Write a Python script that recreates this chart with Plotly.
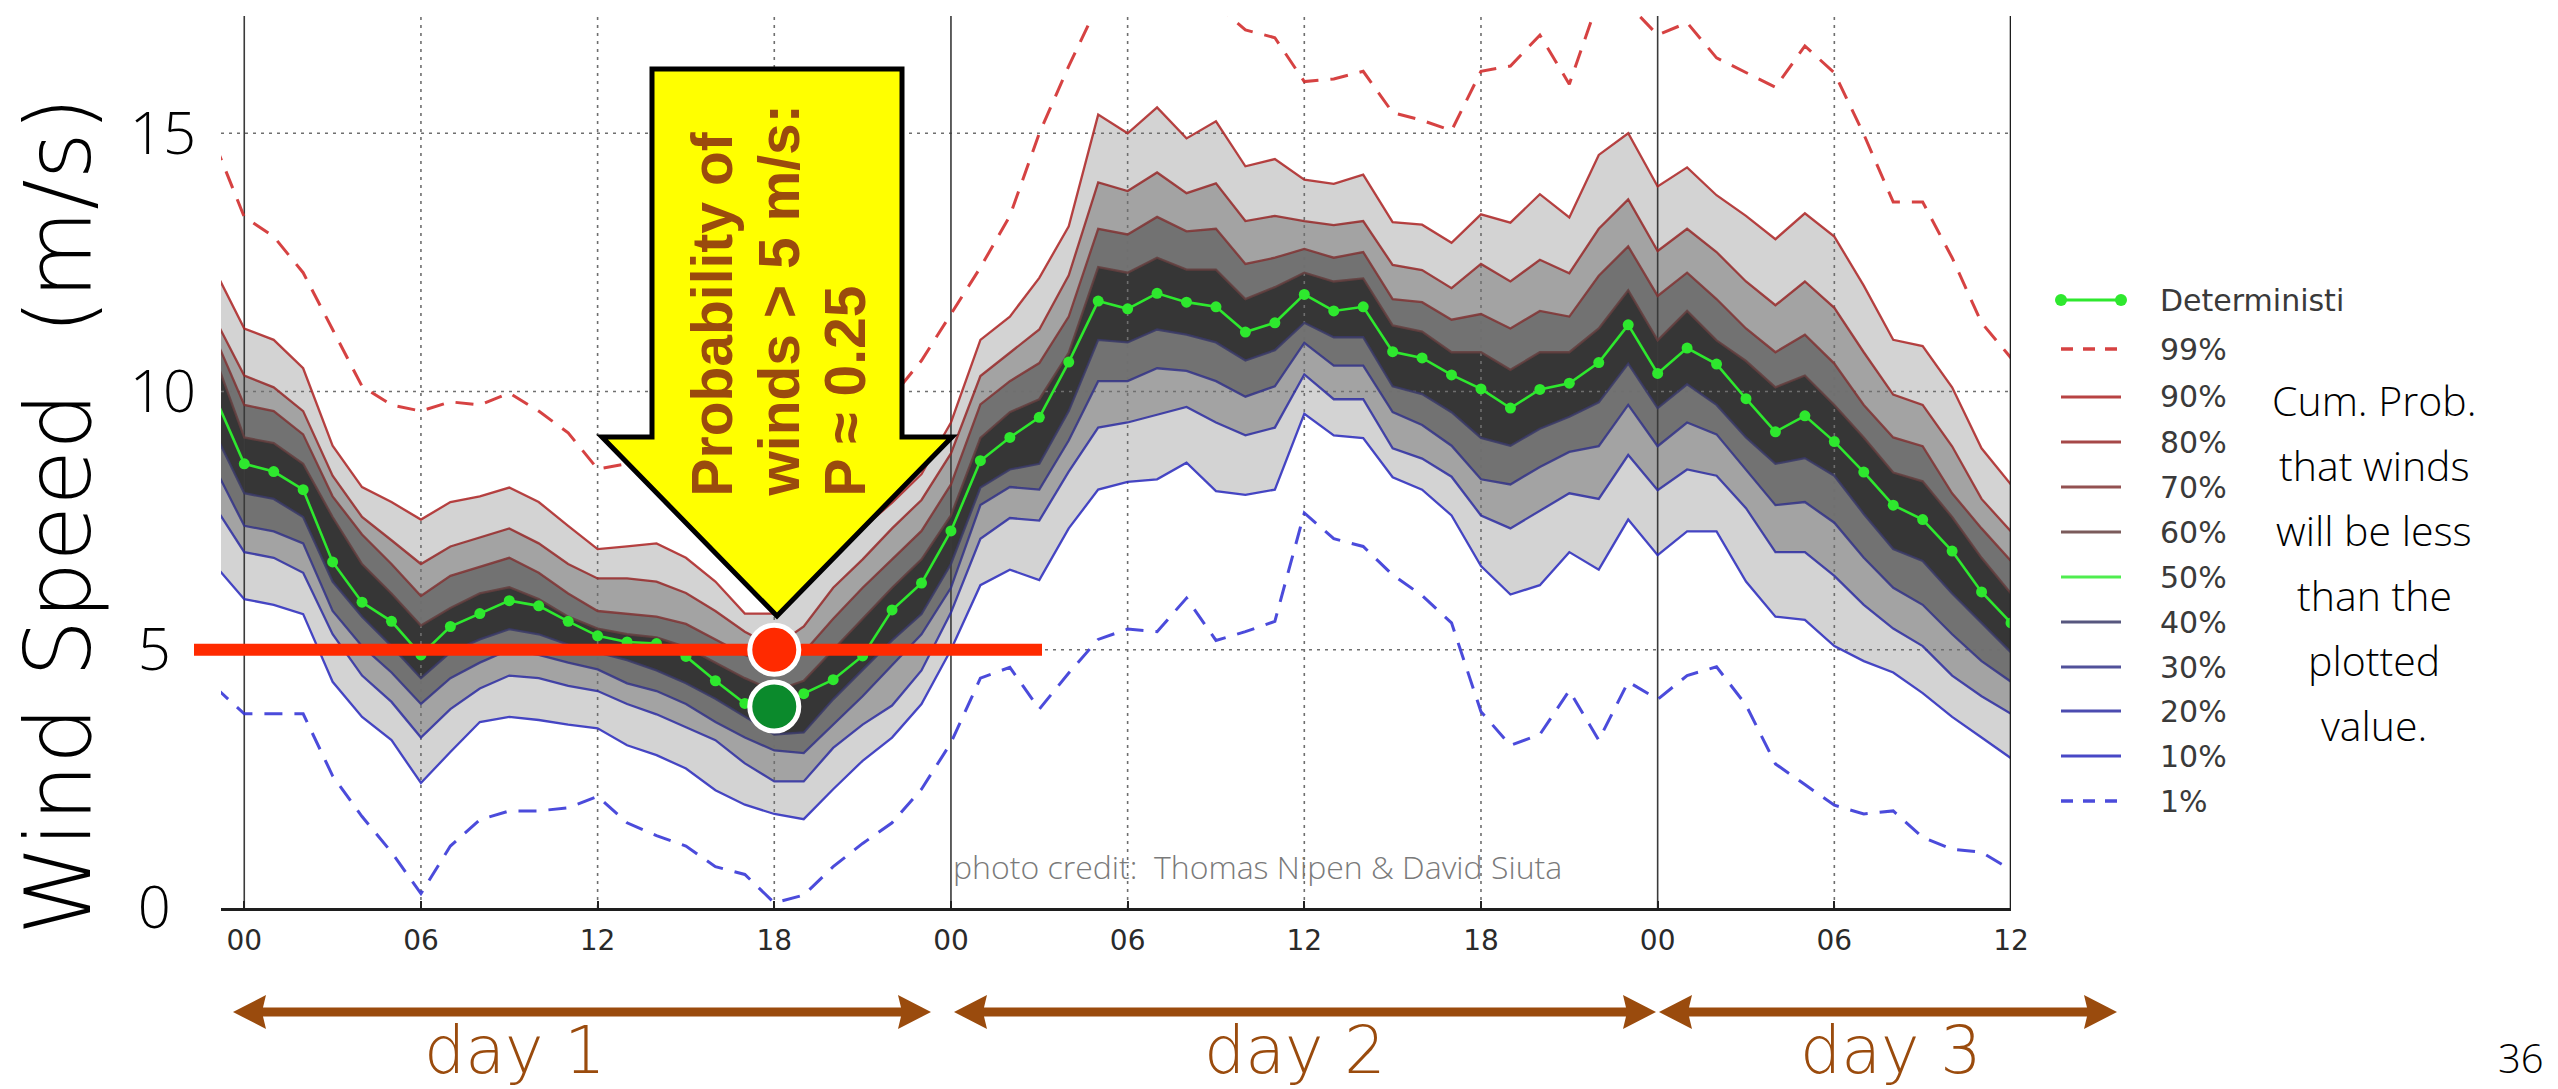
import plotly.graph_objects as go

# ---------------------------------------------------------------- data
# forecast hour, counted from 00 of day 1 (hourly output)
hours = list(range(-1, 61))

tick_hours = list(range(0, 61, 6))
tick_text = ["00", "06", "12", "18", "00", "06", "12", "18", "00", "06", "12"]
speed_ticks = [0, 5, 10, 15]
speed_text = ["0", "5", "10", "15"]

# deterministic run (m/s)
deterministic = [
    9.9, 8.6, 8.45, 8.1, 6.7, 5.92, 5.55, 4.9, 5.45, 5.7, 5.95, 5.85, 5.55, 5.27, 5.15, 5.12,
    4.87, 4.4, 3.96, 3.9, 4.15, 4.42, 4.88, 5.77, 6.29, 7.3, 8.66, 9.11, 9.5, 10.57,
    11.75, 11.6, 11.9, 11.73, 11.64, 11.15, 11.33, 11.88, 11.56, 11.64, 10.77, 10.65, 10.32, 10.05, 9.68, 10.04,
    10.16, 10.56, 11.29, 10.35, 10.84, 10.53, 9.86, 9.22, 9.53, 9.03, 8.44, 7.8, 7.52, 6.91, 6.12, 5.52,
]

# ensemble quantiles (m/s)
pct99 = [
    14.8, 13.38, 13.0, 12.3, 11.2, 10.1, 9.74, 9.62, 9.8, 9.74, 9.97, 9.62, 9.2, 8.5, 8.6, 8.75,
    8.8, 8.5, 8.0, 7.9, 8.1, 8.6, 9.2, 9.9, 10.6, 11.5, 12.4, 13.4, 15.0, 16.3,
    17.5, 18.0, 18.2, 17.8, 17.5, 17.0, 16.85, 16.0, 16.05, 16.2, 15.4, 15.25, 15.05, 16.2, 16.3, 16.9,
    15.95, 17.6, 17.5, 16.9, 17.14, 16.46, 16.17, 15.89, 16.69, 16.17, 14.98, 13.67, 13.67, 12.59, 11.33, 10.65,
]
pct90 = [
    12.35, 11.22, 11.0, 10.45, 8.95, 8.15, 7.86, 7.52, 7.86, 7.97, 8.14, 7.86, 7.4, 6.95, 7.0, 7.06,
    6.78, 6.32, 5.7, 5.7, 6.2, 6.78, 7.35, 7.85, 8.4, 9.4, 11.0, 11.45, 12.2, 13.2,
    15.36, 15.0, 15.5, 14.9, 15.23, 14.36, 14.5, 14.1, 14.02, 14.2, 13.28, 13.23, 12.88, 13.43, 13.27, 13.82,
    13.37, 14.58, 15.0, 13.97, 14.34, 13.8, 13.4, 12.95, 13.45, 13.0, 12.05, 11.0, 10.88, 10.08, 8.9, 8.2,
]
pct80 = [
    11.41, 10.31, 10.08, 9.62, 8.37, 7.57, 7.12, 6.66, 7.0, 7.18, 7.35, 7.06, 6.66, 6.38, 6.38, 6.32,
    6.1, 5.75, 5.35, 5.05, 5.45, 6.2, 6.75, 7.35, 7.9, 8.8, 10.3, 10.75, 11.2, 12.25,
    14.05, 13.88, 14.24, 13.84, 14.03, 13.3, 13.4, 13.3, 13.22, 13.3, 12.45, 12.35, 12.0, 12.47, 12.13, 12.55,
    12.29, 13.15, 13.72, 12.72, 13.15, 12.7, 12.13, 11.67, 12.13, 11.62, 10.76, 9.94, 9.74, 8.94, 7.92, 7.29,
]
pct70 = [
    11.06, 9.74, 9.62, 9.17, 7.97, 7.23, 6.66, 6.04, 6.43, 6.6, 6.78, 6.49, 6.09, 5.75, 5.69, 5.64,
    5.5, 5.2, 4.9, 4.72, 4.95, 5.6, 6.2, 6.75, 7.3, 8.2, 9.75, 10.2, 10.55, 11.45,
    13.15, 13.04, 13.38, 13.1, 13.15, 12.47, 12.59, 12.76, 12.59, 12.7, 11.79, 11.73, 11.39, 11.5, 11.22, 11.56,
    11.45, 12.24, 12.81, 11.85, 12.3, 11.79, 11.22, 10.76, 11.1, 10.54, 9.74, 9.11, 8.94, 8.03, 7.35, 6.72,
]
pct60 = [
    10.67, 9.11, 9.0, 8.6, 7.57, 6.66, 6.09, 5.47, 5.81, 6.09, 6.21, 5.98, 5.64, 5.41, 5.3, 5.24,
    5.05, 4.75, 4.45, 4.2, 4.4, 5.0, 5.6, 6.2, 6.75, 7.6, 9.1, 9.6, 9.85, 10.75,
    12.41, 12.3, 12.59, 12.36, 12.36, 11.79, 12.02, 12.3, 12.13, 12.19, 11.28, 11.16, 10.76, 10.76, 10.42, 10.76,
    10.76, 11.22, 11.96, 10.99, 11.56, 10.99, 10.59, 10.08, 10.31, 9.74, 9.11, 8.43, 8.26, 7.57, 6.78, 6.09,
]
pct40 = [
    9.2, 8.03, 7.92, 7.57, 6.32, 5.64, 5.07, 4.45, 4.95, 5.2, 5.4, 5.3, 5.1, 4.95, 4.8, 4.6,
    4.35, 4.05, 3.7, 3.36, 3.4, 4.04, 4.61, 5.18, 5.69, 6.66, 8.14, 8.49, 8.6, 9.62,
    11.0, 10.95, 11.2, 11.1, 10.95, 10.6, 10.8, 11.33, 11.05, 11.05, 10.1, 9.95, 9.6, 9.1, 8.95, 9.28,
    9.51, 9.79, 10.54, 9.68, 10.14, 9.74, 9.11, 8.6, 8.71, 8.37, 7.63, 6.95, 6.72, 6.09, 5.52, 4.95,
]
pct30 = [
    8.52, 7.4, 7.29, 7.06, 5.75, 5.07, 4.56, 3.95, 4.45, 4.75, 5.0, 4.9, 4.75, 4.62, 4.35, 4.2,
    3.95, 3.6, 3.3, 3.05, 3.0, 3.55, 4.1, 4.7, 5.3, 6.2, 7.8, 8.15, 8.1, 9.05,
    10.2, 10.2, 10.45, 10.4, 10.2, 9.9, 10.1, 10.94, 10.5, 10.5, 9.6, 9.35, 8.95, 8.3, 8.2, 8.54,
    8.83, 8.94, 9.74, 8.94, 9.4, 9.17, 8.49, 7.8, 7.86, 7.46, 6.78, 6.2, 5.87, 5.3, 4.78, 4.38,
]
pct20 = [
    7.77, 6.89, 6.78, 6.49, 5.3, 4.5, 3.99, 3.3, 3.85, 4.25, 4.5, 4.45, 4.3, 4.2, 3.95, 3.75,
    3.5, 3.25, 2.8, 2.45, 2.45, 3.1, 3.55, 3.92, 4.6, 5.72, 7.15, 7.55, 7.5, 8.45,
    9.3, 9.4, 9.55, 9.7, 9.4, 9.15, 9.3, 10.33, 9.85, 9.85, 8.9, 8.7, 8.35, 7.6, 7.35, 7.69,
    8.03, 7.92, 8.77, 8.09, 8.49, 8.37, 7.74, 6.89, 6.89, 6.43, 5.87, 5.41, 5.07, 4.5, 4.1, 3.76,
]
pct10 = [
    6.64, 5.98, 5.87, 5.69, 4.38, 3.7, 3.25, 2.42, 3.02, 3.6, 3.7, 3.64, 3.55, 3.48, 3.15, 2.96,
    2.7, 2.28, 2.0, 1.82, 1.72, 2.3, 2.85, 3.3, 3.95, 5.0, 6.25, 6.55, 6.35, 7.35,
    8.1, 8.25, 8.3, 8.62, 8.07, 8.0, 8.1, 9.57, 9.15, 9.1, 8.34, 8.1, 7.6, 6.62, 6.07, 6.25,
    6.89, 6.55, 7.52, 6.83, 7.29, 7.29, 6.32, 5.64, 5.58, 5.07, 4.78, 4.56, 4.16, 3.7, 3.3, 2.9,
]
pct1 = [
    4.28, 3.76, 3.76, 3.76, 2.56, 1.77, 1.08, 0.28, 1.2, 1.71, 1.88, 1.88, 1.94, 2.16, 1.65, 1.4,
    1.2, 0.8, 0.65, 0.1, 0.25, 0.8, 1.25, 1.65, 2.3, 3.2, 4.45, 4.66, 3.85, 4.55,
    5.2, 5.4, 5.35, 6.0, 5.18, 5.35, 5.55, 7.65, 7.15, 7.0, 6.45, 6.05, 5.52, 3.8, 3.15, 3.36,
    4.21, 3.25, 4.38, 4.04, 4.5, 4.67, 3.93, 2.79, 2.39, 1.99, 1.82, 1.88, 1.37, 1.14, 1.08, 0.74,
]

threshold = 5          # m/s, the wind speed asked about
event_hour = 18        # hour of the example
event_label = ["Probability of", "winds > 5 m/s:", "P \u2248 0.25"]
day_labels = ["day 1", "day 2", "day 3"]
note_lines = ["Cum. Prob.", "that winds", "will be less", "than the", "plotted", "value."]

for series in (deterministic, pct99, pct90, pct80, pct70, pct60, pct40, pct30, pct20, pct10, pct1):
    assert len(series) == len(hours)

# ---------------------------------------------------------------- layout geometry (pixels)
W, H = 2558, 1089
PL, PR, PT, PB = 221, 2011, 16, 908          # plot area edges
X_RANGE = [-0.79, 60]
Y_RANGE = [0, 17.27]


def px(x):
    return (x - PL) / (PR - PL)


def py(y):
    return (PB - y) / (PB - PT)


LIGHT = "Open Sans"
WIDE_LIGHT = "DejaVu Sans"
BROWN = "#9a4b0d"
RED = "#ff2a00"

band_fill = ["#d3d3d3", "#a3a3a3", "#727272", "#363636"]
bands = [(pct10, pct90), (pct20, pct80), (pct30, pct70), (pct40, pct60)]

quantile_lines = [
    ("99%", pct99, "rgba(210,45,45,0.9)", "18px,12px", 3.0),
    ("90%", pct90, "rgba(172,34,34,0.85)", "solid", 2.3),
    ("80%", pct80, "rgba(150,40,40,0.85)", "solid", 2.3),
    ("70%", pct70, "rgba(128,50,50,0.85)", "solid", 2.3),
    ("60%", pct60, "rgba(100,62,62,0.85)", "solid", 2.3),
    ("40%", pct40, "rgba(58,58,104,0.85)", "solid", 2.3),
    ("30%", pct30, "rgba(50,50,136,0.85)", "solid", 2.3),
    ("20%", pct20, "rgba(45,45,162,0.85)", "solid", 2.3),
    ("10%", pct10, "rgba(40,40,188,0.85)", "solid", 2.3),
    ("1%", pct1, "rgba(55,55,215,0.9)", "18px,12px", 3.0),
]
DET_GREEN = "#2ee82e"
MEDIAN_GREEN = "rgba(60,235,60,0.9)"

fig = go.Figure()

# shaded quantile bands, widest first
for (lo, hi), colour in zip(bands, band_fill):
    fig.add_trace(go.Scatter(x=hours, y=lo, mode="lines", line=dict(width=0),
                             hoverinfo="skip", showlegend=False))
    fig.add_trace(go.Scatter(x=hours, y=hi, mode="lines", line=dict(width=0),
                             fill="tonexty", fillcolor=colour,
                             hoverinfo="skip", showlegend=False))

# grid drawn over the shading: dotted at 06/12/18 and every 5 m/s, solid at midnight
gx, gy = [], []
for h in tick_hours:
    if h % 24:
        gx += [h, h, None]
        gy += [Y_RANGE[0], Y_RANGE[1], None]
for v in speed_ticks[1:]:
    gx += [X_RANGE[0], X_RANGE[1], None]
    gy += [v, v, None]
fig.add_trace(go.Scatter(x=gx, y=gy, mode="lines",
                         line=dict(color="#6f6f6f", width=1.6, dash="3px,5px"),
                         hoverinfo="skip", showlegend=False))
dx, dy = [], []
for h in tick_hours:
    if h % 24 == 0:
        dx += [h, h, None]
        dy += [Y_RANGE[0], Y_RANGE[1], None]
fig.add_trace(go.Scatter(x=dx, y=dy, mode="lines",
                         line=dict(color="#3a3a3a", width=1.6),
                         hoverinfo="skip", showlegend=False))

# quantile lines
for name, vals, colour, dash, width in quantile_lines:
    fig.add_trace(go.Scatter(x=hours, y=vals, mode="lines", name=name,
                             line=dict(color=colour, width=width, dash=dash),
                             showlegend=False))

# deterministic forecast
fig.add_trace(go.Scatter(x=hours, y=deterministic, mode="lines+markers", name="Deterministic",
                         line=dict(color=DET_GREEN, width=2.6),
                         marker=dict(color=DET_GREEN, size=11),
                         showlegend=False))

# ---------------------------------------------------------------- shapes
shapes = []

# right frame edge
shapes.append(dict(type="line", xref="x", yref="paper", x0=60, x1=60, y0=0, y1=1,
                   line=dict(color="#1e1e1e", width=2.6), layer="above"))

# yellow call-out arrow
arrow_pts = [(652, 69), (902, 69), (902, 437), (952, 437), (777, 616), (602, 437), (652, 437)]
path = "M " + " L ".join(f"{px(x):.5f},{py(y):.5f}" for x, y in arrow_pts) + " Z"
shapes.append(dict(type="path", xref="paper", yref="paper", path=path,
                   fillcolor="#ffff00", line=dict(color="black", width=5), layer="above"))

# threshold line at 5 m/s
shapes.append(dict(type="line", xref="paper", yref="y", x0=px(194), x1=px(1042),
                   y0=threshold, y1=threshold, line=dict(color=RED, width=12), layer="above"))

# highlighted points at the example hour
det_at_event = deterministic[hours.index(event_hour)]
for yv, colour in ((threshold, RED), (det_at_event, "#0b8a2c")):
    shapes.append(dict(type="circle", xref="x", yref="y", xsizemode="pixel", ysizemode="pixel",
                       xanchor=event_hour, yanchor=yv, x0=-24.5, x1=24.5, y0=-24.5, y1=24.5,
                       fillcolor=colour, line=dict(color="white", width=5), layer="above"))


# day spans under the axis
def double_arrow(x0, x1, yc, head=33, half_head=17, half_shaft=4.5):
    pts = [(x0, yc), (x0 + head, yc - half_head), (x0 + head - 3, yc - half_shaft),
           (x1 - head + 3, yc - half_shaft), (x1 - head, yc - half_head), (x1, yc),
           (x1 - head, yc + half_head), (x1 - head + 3, yc + half_shaft),
           (x0 + head - 3, yc + half_shaft), (x0 + head, yc + half_head)]
    return "M " + " L ".join(f"{px(x):.5f},{py(y):.5f}" for x, y in pts) + " Z"


day_spans = [(233, 931), (954, 1656), (1659, 2117)]
day_label_x = [515, 1295, 1891]
for x0, x1 in day_spans:
    shapes.append(dict(type="path", xref="paper", yref="paper", path=double_arrow(x0, x1, 1012),
                       fillcolor=BROWN, line=dict(width=0), layer="above"))

# ---------------------------------------------------------------- annotations
annotations = []


def note(text, x, y, size, colour="black", family=LIGHT, weight=300,
         xanchor="center", yanchor="middle", angle=0):
    annotations.append(dict(text=text, x=px(x), y=py(y), xref="paper", yref="paper",
                            showarrow=False, xanchor=xanchor, yanchor=yanchor, textangle=angle,
                            font=dict(family=family, size=size, color=colour, weight=weight)))


note("Wind Speed\u00a0\u00a0(m/s)", 58, 516, 91, family=WIDE_LIGHT, weight=200, angle=-90)

for label, lx in zip(day_labels, day_label_x):
    note(label, lx, 1050, 65, colour=BROWN, family=WIDE_LIGHT, weight=200)

for i, line in enumerate(note_lines):
    note(line, 2374, 400 + i * 65, 41)

note("photo credit:\u00a0\u00a0Thomas Nipen &amp; David Siuta", 951, 866, 32,
     colour="#7a7a7a", xanchor="left")
note("36", 2546, 1087, 40, xanchor="right", yanchor="bottom")

for i, line in enumerate(event_label):
    note(line, 712 + i * 66.5, 499, 57, colour=BROWN, family="Liberation Sans",
         weight="bold", yanchor="bottom", angle=-90)

# legend (drawn by hand so spacing follows the panel)
legend_rows = [("Deterministi", DET_GREEN, "solid", 2.6)]
for name, _, colour, dash, width in quantile_lines[:5]:
    legend_rows.append((name, colour, dash, width))
legend_rows.append(("50%", MEDIAN_GREEN, "solid", 2.3))
for name, _, colour, dash, width in quantile_lines[5:]:
    legend_rows.append((name, colour, dash, width))

leg_y = [300, 349, 397, 442, 487, 532, 577, 622, 667, 711, 756, 801]
for (name, colour, dash, width), yy in zip(legend_rows, leg_y):
    shapes.append(dict(type="line", xref="paper", yref="paper", x0=px(2061), x1=px(2121),
                       y0=py(yy), y1=py(yy),
                       line=dict(color=colour, width=width + 0.6,
                                 dash="12px,10px" if dash != "solid" else "solid")))
    if name.startswith("Determ"):
        for xx in (2061, 2121):
            shapes.append(dict(type="circle", xref="paper", yref="paper",
                               xsizemode="pixel", ysizemode="pixel", xanchor=px(xx), yanchor=py(yy),
                               x0=-6, x1=6, y0=-6, y1=6, fillcolor=DET_GREEN,
                               line=dict(width=0)))
    note(name, 2158, yy, 30, colour="#3a3a3a", family="DejaVu Sans", weight="normal",
         xanchor="left")

# ---------------------------------------------------------------- axes & page
# single-digit speed labels carry a small trailing space so they sit under the two-digit ones
speed_labels = [t + "\u2004\u200a" if len(t) == 1 else t for t in speed_text]

fig.update_layout(
    width=W, height=H,
    margin=dict(l=PL, r=W - PR, t=PT, b=H - PB, pad=0),
    paper_bgcolor="white", plot_bgcolor="white",
    showlegend=False,
    shapes=shapes,
    annotations=annotations,
    xaxis=dict(range=X_RANGE, tickvals=tick_hours, ticktext=tick_text,
               showgrid=False, zeroline=False, showline=True, linecolor="#1e1e1e", linewidth=3,
               ticks="inside", ticklen=7, tickwidth=1.5, tickcolor="#222",
               tickfont=dict(family="DejaVu Sans", size=28, color="#2a2a2a"),
               ticklabelstandoff=5, fixedrange=True),
    yaxis=dict(range=Y_RANGE, tickvals=speed_ticks, ticktext=speed_labels,
               showgrid=False, zeroline=False, showline=False, ticks="",
               tickfont=dict(family=LIGHT, size=58, color="black", weight=300),
               ticklabelstandoff=24, fixedrange=True),
)

fig.write_html("out.html")
